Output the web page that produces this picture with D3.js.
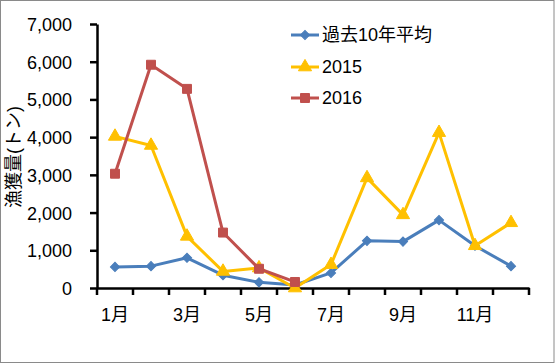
<!DOCTYPE html>
<html>
<head>
<meta charset="utf-8">
<script src="https://cdn.jsdelivr.net/npm/d3@7"></script>
<style>
  html, body { margin: 0; padding: 0; background: #fff; }
  svg text { font-family: "Liberation Sans", "Noto Sans CJK JP", sans-serif; fill: #000; }
</style>
</head>
<body>
<svg id="chart" width="555" height="364"></svg>
<script>
const months = ["1月","2月","3月","4月","5月","6月","7月","8月","9月","10月","11月","12月"];
const avg10 = [560, 580, 800, 340, 150, 80, 400, 1250, 1230, 1800, 1120, 580];
const y2015 = [4020, 3780, 1370, 440, 530, 0, 620, 2920, 1940, 4120, 1120, 1730];
const y2016 = [3030, 5920, 5280, 1470, 510, 160];
const seriesNames = ["過去10年平均", "2015", "2016"];
const yTicks = [0, 1000, 2000, 3000, 4000, 5000, 6000, 7000];
const yTitle = "漁獲量(トン)";

const svg = d3.select("#chart");
svg.append("rect").attr("x", 0.5).attr("y", 0.5).attr("width", 553.5).attr("height", 362)
  .attr("fill", "#fff").attr("stroke", "#8a8a8a").attr("stroke-width", 1);

const x = d3.scaleBand().domain(months).range([97, 529]);
const y = d3.scaleLinear().domain([0, 7000]).range([288, 24]);

// Y axis
const yAxis = svg.append("g").attr("transform", "translate(97,0)")
  .call(d3.axisLeft(y).tickValues(yTicks).tickFormat(d3.format(",")).tickSize(7).tickSizeOuter(0));
yAxis.select(".domain").attr("stroke", "#000").attr("stroke-width", 2.5);
yAxis.selectAll(".tick line").attr("stroke", "#000").attr("stroke-width", 2.5);
yAxis.selectAll(".tick text").attr("font-size", 18).attr("x", -25).attr("dy", "0.36em")
  .style("font-family", "Liberation Sans");

// X axis
const xAxis = svg.append("g").attr("transform", "translate(0,288)")
  .call(d3.axisBottom(x).tickSize(0).tickSizeOuter(0)
    .tickFormat((d, i) => i % 2 === 0 ? d : ""));
xAxis.select(".domain").attr("stroke", "#000").attr("stroke-width", 2.5);
xAxis.selectAll(".tick text").attr("font-size", 18).attr("y", 20).attr("dy", "0.71em");
const bounds = months.map(m => x(m)).concat([x.range()[1]]);
xAxis.selectAll(".bt").data(bounds).enter().append("line")
  .attr("x1", d => d).attr("x2", d => d).attr("y1", 0).attr("y2", 7)
  .attr("stroke", "#000").attr("stroke-width", 2.5);

// Y title
svg.append("text").attr("transform", "translate(20,157) rotate(-90)")
  .attr("text-anchor", "middle").attr("font-size", 18).text(yTitle);

const cx = m => x(m) + x.bandwidth() / 2;
const series = [
  { name: seriesNames[0], values: avg10, color: "#4a7ebb", sym: d3.symbolSquare, size: 42, rot: 45 },
  { name: seriesNames[1], values: y2015, color: "#ffc000", sym: d3.symbolTriangle, size: 75, rot: 0 },
  { name: seriesNames[2], values: y2016, color: "#c0504d", sym: d3.symbolSquare, size: 80, rot: 0 }
];
const line = d3.line().x((d, i) => cx(months[i])).y(d => y(d));

series.forEach(s => {
  const g = svg.append("g");
  g.append("path").datum(s.values).attr("d", line)
    .attr("fill", "none").attr("stroke", s.color).attr("stroke-width", 3).attr("stroke-linejoin", "round");
  g.selectAll("path.m").data(s.values).enter().append("path").attr("class", "m")
    .attr("d", d3.symbol().type(s.sym).size(s.size))
    .attr("transform", (d, i) => `translate(${cx(months[i])},${y(d)}) rotate(${s.rot})`)
    .attr("fill", s.color).attr("stroke", s.color).attr("stroke-width", 1);
});

// Legend
const legendY = [35, 67, 98];
series.forEach((s, i) => {
  const g = svg.append("g").attr("transform", `translate(0,${legendY[i]})`);
  g.append("line").attr("x1", 291).attr("x2", 319).attr("y1", 0).attr("y2", 0)
    .attr("stroke", s.color).attr("stroke-width", 3);
  g.append("path").attr("d", d3.symbol().type(s.sym).size(s.size))
    .attr("transform", `translate(305,0) rotate(${s.rot})`).attr("fill", s.color).attr("stroke", s.color);
  g.append("text").attr("x", 322).attr("y", 0).attr("dy", "0.36em").attr("font-size", 18).text(s.name);
});
</script>
</body>
</html>
